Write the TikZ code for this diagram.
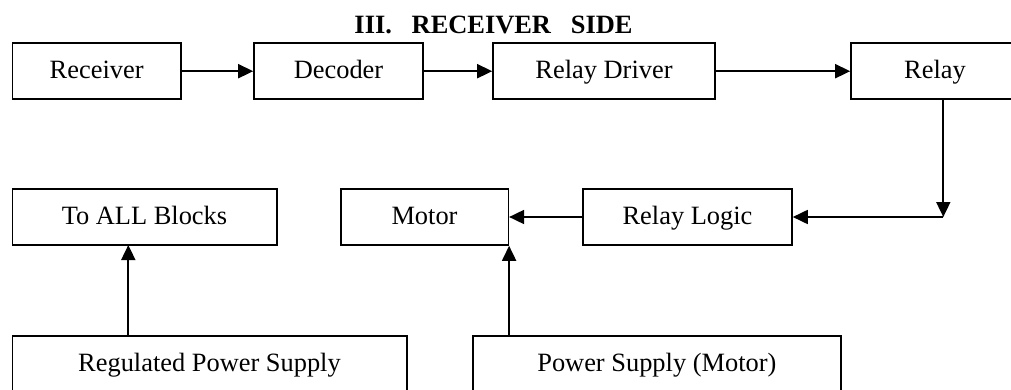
\documentclass[tikz,border=0pt]{standalone}
\usepackage{fontspec}
\setmainfont{Liberation Serif}
\usetikzlibrary{arrows.meta}
\begin{document}
\begin{tikzpicture}[x=1pt,y=-1pt,
  blk/.style={draw,line width=1.6pt,minimum height=56pt,inner sep=0pt,
    text height=18pt,text depth=3.4pt,font=\fontsize{26.4}{30}\selectfont},
  arr/.style={line width=1.8pt,-{Triangle[length=15pt,width=14pt]}}]
\useasboundingbox (0,0) rectangle (1011,390);
\clip (0,0) rectangle (1011,390);
\node[font=\fontsize{26.4}{30}\selectfont\bfseries,anchor=base] (title) at (493.5,33.3)
  {III.\hspace{0.75em}RECEIVER\hspace{0.75em}SIDE};
\node[blk,minimum width=168.7pt] (rec) at (96.65,71.2) {Receiver};
\node[blk,minimum width=169pt] (dec) at (338.5,71.2) {Decoder};
\node[blk,minimum width=222pt] (rd) at (604,71.2) {Relay Driver};
\node[blk,minimum width=168pt] (rel) at (935,71.2) {Relay};
\node[blk,minimum width=264.4pt] (tab) at (144.5,217) {To ALL Blocks};
\node[blk,minimum width=167.6pt] (mot) at (424.5,217) {Motor};
\node[blk,minimum width=209pt] (rl) at (687.5,217) {Relay Logic};
\node[blk,minimum width=394.4pt] (rps) at (209.5,364) {Regulated Power Supply};
\node[blk,minimum width=368.3pt] (psm) at (656.85,364) {Power Supply (Motor)};
\coordinate (c1) at (943.3,217);
\coordinate (c2) at (128.3,245);
\draw[arr] (rec) -- (dec);
\draw[arr] (dec) -- (rd);
\draw[arr] (rd) -- (rel);
\draw[arr] (rel.south -| c1) -- (c1);
\draw[arr] (c1) -- (rl);
\draw[arr] (rl) -- (mot);
\draw[arr] (psm.north -| mot.south east) -- (mot.south east);
\draw[arr] (rps.north -| c2) -- (c2);
\end{tikzpicture}
\end{document}
